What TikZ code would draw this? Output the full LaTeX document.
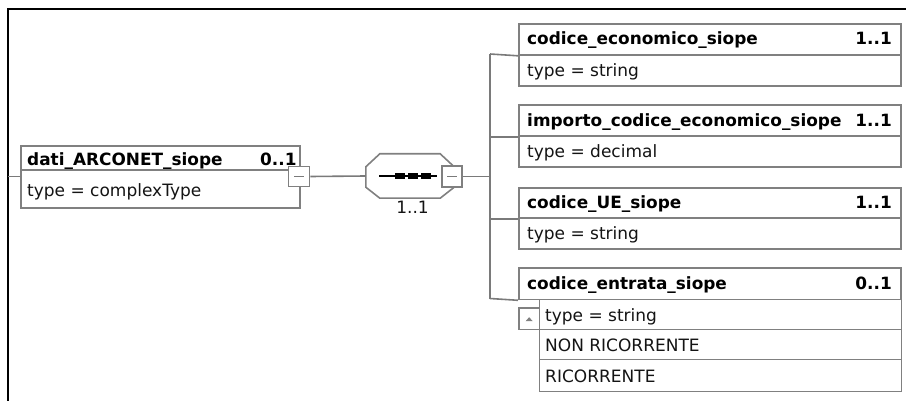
\documentclass[tikz,border=0pt]{standalone}
\usepackage{fontspec}
\setmainfont{DejaVu Sans}
\usetikzlibrary{calc}
\definecolor{boxgray}{HTML}{808080}
\definecolor{wiregray}{HTML}{7A7A7A}
\definecolor{txt}{HTML}{141414}
\begin{document}
\begin{tikzpicture}[x=1pt,y=-1pt,
  frame/.style={draw=black, line width=1.2pt},
  boxr/.style={draw=boxgray, line width=1.8pt, fill=white, inner sep=0pt, anchor=north west},
  minusbox/.style={draw=boxgray, line width=1.6pt, fill=white, inner sep=0pt, minimum width=21pt, minimum height=20pt},
  wire/.style={draw=wiregray, line width=1.6pt},
  nm/.style={font=\fontsize{16.9}{20}\selectfont\bfseries, inner sep=0pt, anchor=base west, text=black},
  card/.style={font=\fontsize{16.9}{20}\selectfont\bfseries, inner sep=0pt, anchor=base east, text=black},
  tp/.style={font=\fontsize{17}{20}\selectfont, inner sep=0pt, anchor=base west, text=txt},
]
\useasboundingbox (0,0) rectangle (906,401);
% frame
\draw[frame] (8,401) -- (8,9) -- (906,9);
\coordinate (fl) at (8,176.5);

% main element
\node[boxr, minimum width=279pt, minimum height=24pt] (mh) at (20,145) {};
\node[boxr, minimum width=279pt, minimum height=38pt] (mb) at (20,169) {};
\node[nm] (mhname) at (27,166) {dati\_ARCONET\_siope};
\node[card, anchor=base west] (mhcard) at (260,166) {0..1};
\node[tp] (mbtype) at (27,197) {type = complexType};
\node[minusbox] (mm) at (299,176.5) {};
\draw[wire] ($(mm.center)+(-5,0)$) -- ($(mm.center)+(5,0)$);
\draw[wire] (fl) -- (mb.west |- fl);

% sequence
\node[inner sep=0pt, minimum width=88pt, minimum height=44pt] (seq) at (410,176) {};
\draw[draw=boxgray, fill=white, line width=1.6pt]
  ($(seq.north west)+(0,13)$) -- ($(seq.north west)+(14,0)$) -- ($(seq.north east)+(-14,0)$) --
  ($(seq.north east)+(0,13)$) -- ($(seq.south east)+(0,-11)$) -- ($(seq.south east)+(-14,0)$) --
  ($(seq.south west)+(14,0)$) -- ($(seq.south west)+(0,-11)$) -- cycle;
\draw[black, line width=1.5pt] (379,176) -- (437,176);
\foreach \xx in {395,408,421} {
  \fill[black] (\xx,173.3) rectangle ++(9.5,5.4);
}
\node[tp, anchor=base] (seqcard) at (412.5,214) {1..1};
\node[minusbox, minimum width=20pt, minimum height=21pt] (sm) at (452,176.5) {};
\draw[wire] ($(sm.center)+(-5,0)$) -- ($(sm.center)+(5,0)$);
\draw[wire] (mm.east) -- (seq.west);

% bus
\coordinate (bt) at (490,54);
\coordinate (bb) at (490,298.5);
\draw[wire] (sm.east) -- (sm.east -| bt);
\draw[wire] (bt) -- (bb);

% box 1
\node[boxr, minimum width=382pt, minimum height=31pt] (b1h) at (518,23) {};
\node[boxr, minimum width=382pt, minimum height=31pt] (b1b) at (518,54) {};
\node[nm] (b1name) at (527,45) {codice\_economico\_siope};
\node[card] (b1card) at (892,45) {1..1};
\node[tp] (b1type) at (527,76.5) {type = string};
\draw[wire] (bt) -- (b1h.south west);

% box 2
\node[boxr, minimum width=382pt, minimum height=31pt] (b2h) at (518,104.5) {};
\node[boxr, minimum width=382pt, minimum height=31pt] (b2b) at (518,135.5) {};
\node[nm] (b2name) at (527,126.5) {importo\_codice\_economico\_siope};
\node[card] (b2card) at (892,126.5) {1..1};
\node[tp] (b2type) at (527,158) {type = decimal};
\draw[wire] (b2h.south west -| bt) -- (b2h.south west);

% box 3
\node[boxr, minimum width=382pt, minimum height=30pt] (b3h) at (518,187) {};
\node[boxr, minimum width=382pt, minimum height=31pt] (b3b) at (518,217) {};
\node[nm] (b3name) at (527,208.5) {codice\_UE\_siope};
\node[card] (b3card) at (892,208.5) {1..1};
\node[tp] (b3type) at (527,239.5) {type = string};
\draw[wire] (b3h.south west -| bt) -- (b3h.south west);

% box 4
\node[boxr, minimum width=382pt, minimum height=31.5pt] (b4h) at (518,267) {};
\node[nm] (b4name) at (527,289) {codice\_entrata\_siope};
\node[card] (b4card) at (892,289) {0..1};
\draw[wire] (bb) -- (b4h.south west);
\node[boxr, minimum width=362pt, minimum height=30pt] (b4t) at (538.5,298.5) {};
\node[boxr, minimum width=362pt, minimum height=30pt] (b4e1) at (538.5,328.5) {};
\node[boxr, minimum width=362pt, minimum height=32pt] (b4e2) at (538.5,358.5) {};
\node[boxr, minimum width=20.5pt, minimum height=21.5pt] (b4tri) at (518,307) {};
\fill[boxgray] ($(b4tri.center)+(-3.5,2.5)$) -- ($(b4tri.center)+(3.5,2.5)$) -- ($(b4tri.center)+(0,-1.5)$) -- cycle;
\node[tp] (b4type) at (545,321) {type = string};
\node[tp] (b4e1t) at (545,351.5) {NON RICORRENTE};
\node[tp] (b4e2t) at (545,382) {RICORRENTE};
\end{tikzpicture}
\end{document}
